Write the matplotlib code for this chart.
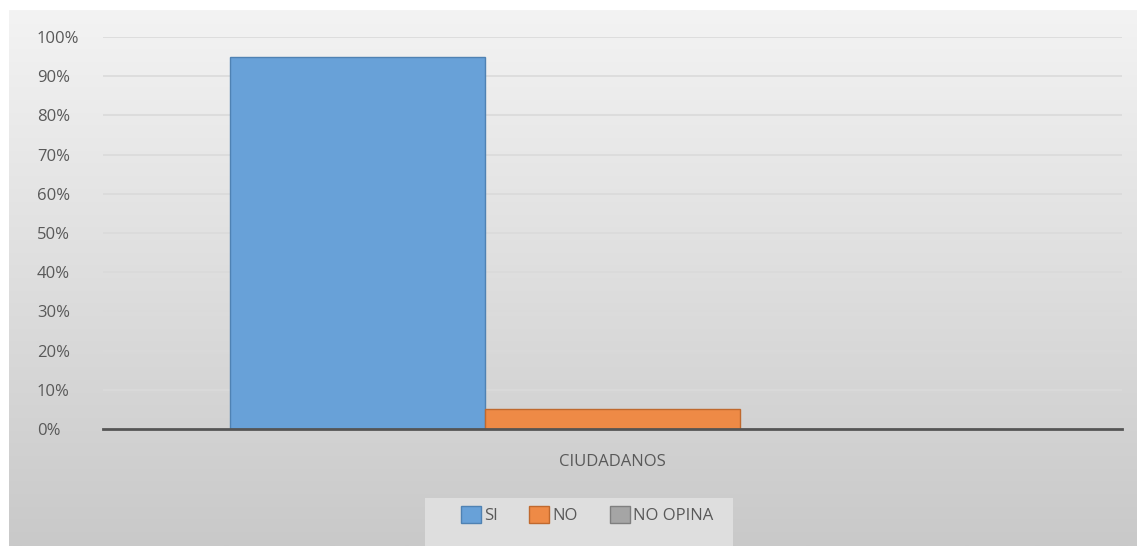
import numpy as np
import matplotlib.pyplot as plt
from matplotlib.patches import Rectangle
from matplotlib.ticker import PercentFormatter

plt.rcParams['font.family'] = ['Open Sans', 'DejaVu Sans']

categoria = "CIUDADANOS"
series = ["SI", "NO", "NO OPINA"]
valores = [0.95, 0.05, 0.0]
colores = ["#68a1d8", "#ee8a46", "#a5a5a5"]
bordes = ["#4f82b3", "#c0692e", "#7f7f7f"]

W, H = 1137, 546
fig = plt.figure(figsize=(W / 100, H / 100), dpi=100)
fig.patch.set_facecolor("white")

# fondo degradado del area del grafico
bg = fig.add_axes([9 / W, 0, 1 - 9 / W, 1 - 10 / H])
grad = np.linspace(0, 1, 256).reshape(-1, 1)
bg.imshow(grad, aspect="auto", cmap=plt.cm.colors.LinearSegmentedColormap.from_list(
    "g", ["#f3f3f3", "#c9c9c9"]), extent=[0, 1, 0, 1], origin="upper")
bg.axis("off")

ax = fig.add_axes([103 / W, 1 - 429 / H, (1122 - 103) / W, (429 - 37) / H])
ax.set_facecolor("none")

n = len(series)
ancho = 0.25
pos = (np.arange(n) - (n - 1) / 2) * ancho
for p, v, c, b, s in zip(pos, valores, colores, bordes, series):
    ax.bar(p, v, width=ancho, color=c, edgecolor=b, linewidth=1, label=s, zorder=3)

ax.set_xlim(-0.5, 0.5)
ax.set_ylim(0, 1)
ax.set_yticks(np.arange(0, 1.01, 0.1))
ax.yaxis.set_major_formatter(PercentFormatter(1.0, decimals=0))
ax.set_xticks([0])
ax.set_xticklabels([categoria])
ax.tick_params(axis="both", length=0, labelsize=12, colors="#595959")
ax.tick_params(axis="x", pad=18)
ax.tick_params(axis="y", pad=47.5)
for lbl in ax.get_yticklabels():
    lbl.set_horizontalalignment("left")
ax.yaxis.grid(True, color="#dadada", linewidth=1.2, zorder=0)
for sp in ["top", "right", "left"]:
    ax.spines[sp].set_visible(False)
ax.spines["bottom"].set_color("#555555")
ax.spines["bottom"].set_linewidth(2)
ax.spines["bottom"].set_zorder(4)

# caja de la leyenda
fig.patches.append(Rectangle((425 / W, 0), (733 - 425) / W, (546 - 498) / H,
                             transform=fig.transFigure, facecolor="#dedede",
                             edgecolor="none", zorder=1))
leg = fig.legend(loc="center", bbox_to_anchor=(587 / W, 1 - 515 / H), ncol=3,
                 frameon=False, fontsize=12, handlelength=1.2, handleheight=1.2,
                 handletextpad=0.2, columnspacing=1.9)
for t in leg.get_texts():
    t.set_color("#595959")

fig.savefig("out.png", dpi=100)
